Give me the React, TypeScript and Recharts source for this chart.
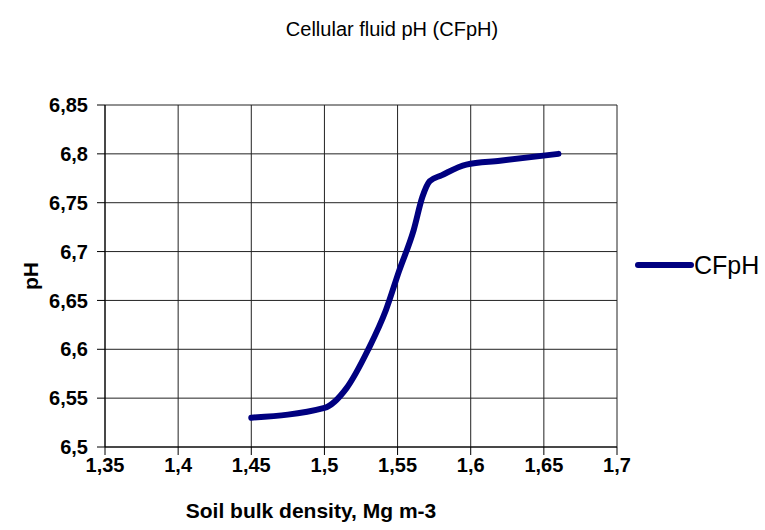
import React from 'react';
import { LineChart, Line, XAxis, YAxis, CartesianGrid, Label } from 'recharts';

const density = [1.45, 1.5, 1.515, 1.53, 1.542, 1.551, 1.561, 1.567, 1.572, 1.58, 1.597, 1.62, 1.66];
const cfph = [6.53, 6.54, 6.56, 6.6, 6.64, 6.68, 6.722, 6.756, 6.772, 6.778, 6.789, 6.793, 6.8];
const xTicks = [1.35, 1.4, 1.45, 1.5, 1.55, 1.6, 1.65, 1.7];
const yTicks = [6.5, 6.55, 6.6, 6.65, 6.7, 6.75, 6.8, 6.85];
const seriesName = 'CFpH';
const title = 'Cellular fluid pH (CFpH)';
const xTitle = 'Soil bulk density, Mg m-3';
const yTitle = 'pH';

const data = density.map((d, i) => ({ x: d, y: cfph[i] }));
const fmt = (v: number) => String(v).replace('.', ',');
const FONT = 'Arial, "Liberation Sans", sans-serif';
const NAVY = '#000080';
const tickStyle = { fill: '#000', fontSize: 20, fontWeight: 'bold' as const, fontFamily: FONT };

export default function App() {
  return (
    <div style={{ position: 'absolute', left: 0, top: 0, width: 765, height: 530, background: '#fff', fontFamily: FONT }}>
      <div style={{ position: 'absolute', left: 0, width: 784, top: 17, lineHeight: '24px', textAlign: 'center', fontSize: 20, color: '#000' }}>{title}</div>
      <LineChart width={765} height={530} data={data} margin={{ top: 105, right: 148, bottom: 8, left: 15 }}>
        <CartesianGrid stroke="#222" strokeWidth={1} />
        <XAxis
          dataKey="x"
          type="number"
          domain={[1.35, 1.7]}
          ticks={xTicks}
          tickFormatter={fmt}
          height={75}
          stroke="#000"
          tickSize={8}
          tickMargin={3}
          tick={tickStyle}
          allowDataOverflow
        >
          <Label
            content={({ viewBox }: any) => (
              <text x={viewBox.x + viewBox.width / 2 - 50} y={518} textAnchor="middle"
                style={{ fill: '#000', fontSize: 21, fontWeight: 'bold', fontFamily: FONT }}>{xTitle}</text>
            )}
          />
        </XAxis>
        <YAxis
          type="number"
          domain={[6.5, 6.85]}
          ticks={yTicks}
          tickFormatter={fmt}
          width={90}
          stroke="#000"
          tickSize={8}
          tickMargin={9}
          tick={tickStyle}
          allowDataOverflow
        >
          <Label
            content={({ viewBox }: any) => {
              const cx = viewBox.x + 15;
              const cy = viewBox.y + viewBox.height / 2;
              return (
                <text x={cx} y={cy} transform={`rotate(-90 ${cx} ${cy})`} textAnchor="middle" dominantBaseline="central"
                  style={{ fill: '#000', fontSize: 21, fontWeight: 'bold', fontFamily: FONT }}>{yTitle}</text>
              );
            }}
          />
        </YAxis>
        <Line type="monotone" dataKey="y" name={seriesName} stroke={NAVY} strokeWidth={6} strokeLinecap="round" dot={false} activeDot={false} isAnimationActive={false} />
      </LineChart>
      <div style={{ position: 'absolute', left: 634, top: 250, display: 'flex', alignItems: 'center' }}>
        <svg width={62} height={30}>
          <line x1={4} y1={15} x2={57} y2={15} stroke={NAVY} strokeWidth={6} strokeLinecap="round" />
        </svg>
        <span style={{ fontSize: 25, color: '#000', marginLeft: -2, lineHeight: '30px' }}>{seriesName}</span>
      </div>
    </div>
  );
}
